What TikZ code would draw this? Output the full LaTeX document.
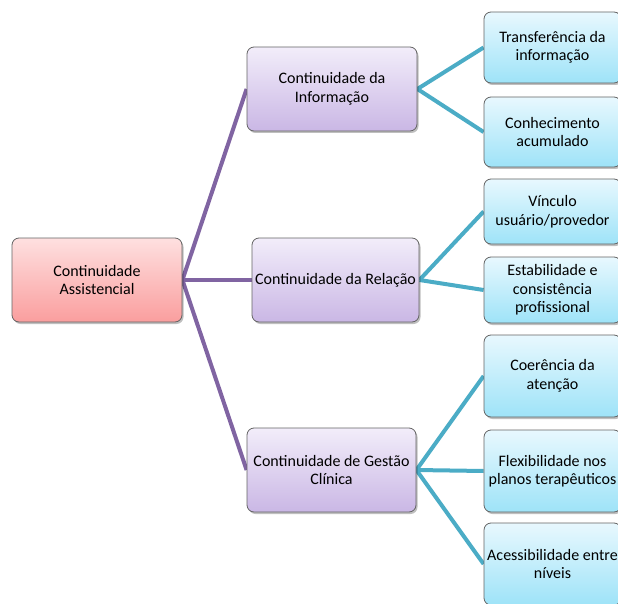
\documentclass[tikz,border=0pt]{standalone}
\usepackage{fontspec}
\setmainfont{Carlito}
\usetikzlibrary{shadows,backgrounds}
\definecolor{rootTop}{RGB}{254,224,224}
\definecolor{rootBot}{RGB}{250,158,158}
\definecolor{midTop}{RGB}{242,237,250}
\definecolor{midBot}{RGB}{202,183,229}
\definecolor{leafTop}{RGB}{232,248,254}
\definecolor{leafBot}{RGB}{158,227,248}
\definecolor{boxLine}{RGB}{100,100,100}
\definecolor{purpleLink}{RGB}{128,100,162}
\definecolor{tealLink}{RGB}{75,172,198}
\tikzset{
  boxbase/.style={draw=boxLine, line width=0.8pt, rounded corners=7pt, inner sep=0pt,
    align=center, font=\fontsize{16}{18.5}\selectfont,
    drop shadow={shadow xshift=1.5pt, shadow yshift=-2pt, opacity=0.25, fill=black}},
  rootbox/.style={boxbase, top color=rootTop, bottom color=rootBot, minimum width=170pt, minimum height=84pt},
  midbox/.style={boxbase, top color=midTop, bottom color=midBot, minimum height=84pt},
  leafbox/.style={boxbase, top color=leafTop, bottom color=leafBot, minimum width=137pt},
  plink/.style={draw=purpleLink, line width=4pt},
  tlink/.style={draw=tealLink, line width=4pt}
}
\begin{document}
\begin{tikzpicture}[x=1pt,y=-1pt]
\clip (0,0) rectangle (618,604);
% root
\node[rootbox] (root) at (97,280) {Continuidade\\Assistencial};
% middle
\node[midbox, minimum width=170pt] (info) at (332,89) {Continuidade da\\Informação};
\node[midbox, minimum width=167pt] (rel) at (335.5,280) {Continuidade da Relação};
\node[midbox, minimum width=169pt] (gest) at (331.5,470) {Continuidade de Gestão\\Clínica};
% leaves
\node[leafbox, minimum height=71pt] (l1) at (552.5,47.5) {Transferência da\\informação};
\node[leafbox, minimum height=70pt] (l2) at (552.5,132) {Conhecimento\\acumulado};
\node[leafbox, minimum height=65pt] (l3) at (552.5,211.5) {Vínculo\\usuário/provedor};
\node[leafbox, minimum height=66pt] (l4) at (552.5,290) {Estabilidade e\\consistência\\profissional};
\node[leafbox, minimum height=82pt] (l5) at (552.5,376) {Coerência da\\atenção};
\node[leafbox, minimum height=82pt] (l6) at (552.5,471) {Flexibilidade nos\\planos terapêuticos};
\node[leafbox, minimum height=82pt] (l7) at (552.5,564) {Acessibilidade entre\\níveis};
\begin{pgfonlayer}{background}
\draw[plink] (root.east) -- (info.west);
\draw[plink] (root.east) -- (rel.west);
\draw[plink] (root.east) -- (gest.west);
\draw[tlink] (info.east) -- (l1.west);
\draw[tlink] (info.east) -- (l2.west);
\draw[tlink] (rel.east) -- (l3.west);
\draw[tlink] (rel.east) -- (l4.west);
\draw[tlink] (gest.east) -- (l5.west);
\draw[tlink] (gest.east) -- (l6.west);
\draw[tlink] (gest.east) -- (l7.west);
\end{pgfonlayer}
\end{tikzpicture}
\end{document}
